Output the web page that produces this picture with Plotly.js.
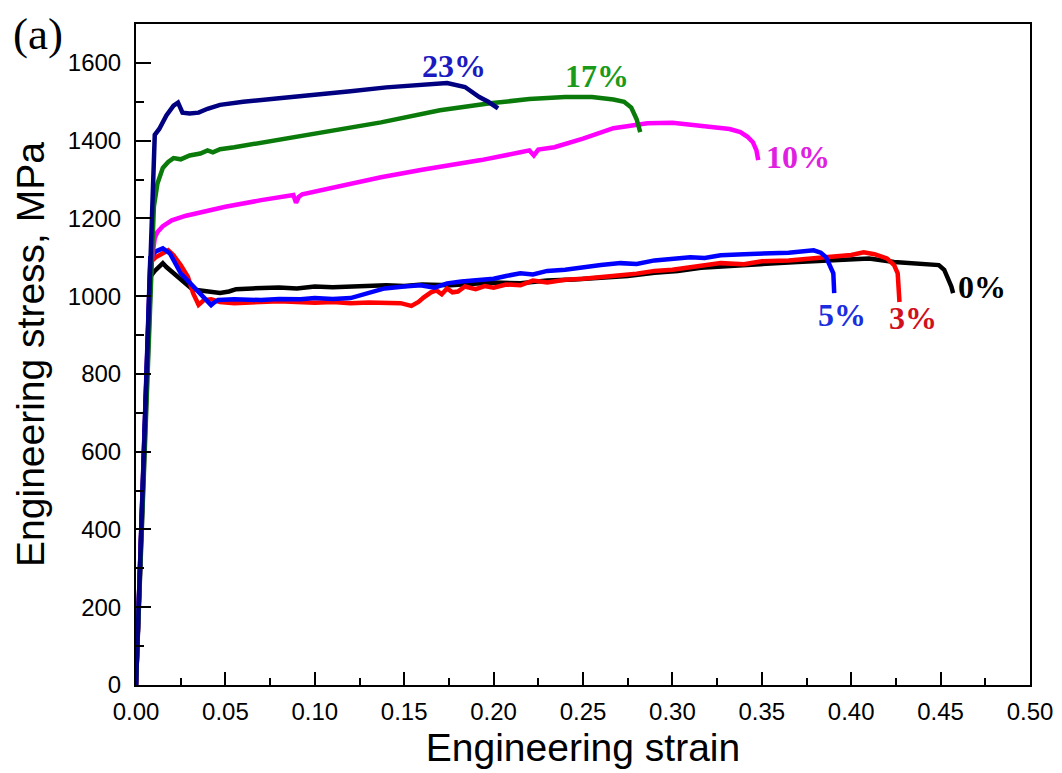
<!DOCTYPE html>
<html>
<head>
<meta charset="utf-8">
<script src="https://cdn.plot.ly/plotly-3.0.1.min.js"></script>
<style>html,body{margin:0;padding:0;background:#fff;}#chart{width:1062px;height:773px;}</style>
</head>
<body>
<div id="chart"></div>
<script>
// ---- Data ----
const strain0 = [0, 0.004, 0.008, 0.0105, 0.013, 0.015, 0.017, 0.022, 0.027, 0.031, 0.035, 0.040, 0.047, 0.052, 0.056, 0.065, 0.08, 0.09, 0.10, 0.11, 0.12, 0.13, 0.14, 0.15, 0.16, 0.176, 0.19, 0.20, 0.215, 0.23, 0.245, 0.26, 0.275, 0.29, 0.303, 0.316, 0.33, 0.34, 0.355, 0.37, 0.385, 0.40, 0.41, 0.424, 0.437, 0.449, 0.452, 0.454, 0.456, 0.457];
const stress0 = [0, 530, 1050, 1065, 1078, 1085, 1075, 1055, 1035, 1020, 1015, 1013, 1008, 1012, 1018, 1020, 1022, 1020, 1025, 1023, 1024, 1027, 1028, 1026, 1030, 1028, 1032, 1035, 1033, 1040, 1043, 1048, 1052, 1060, 1065, 1073, 1076, 1080, 1084, 1088, 1092, 1095, 1097, 1088, 1084, 1080, 1068, 1049, 1025, 1008];

const strain3 = [0, 0.004, 0.008, 0.011, 0.014, 0.016, 0.018, 0.021, 0.025, 0.029, 0.032, 0.035, 0.038, 0.042, 0.047, 0.055, 0.07, 0.08, 0.09, 0.10, 0.11, 0.12, 0.13, 0.14, 0.148, 0.154, 0.158, 0.161, 0.165, 0.168, 0.171, 0.174, 0.177, 0.18, 0.184, 0.19, 0.195, 0.20, 0.207, 0.215, 0.222, 0.23, 0.24, 0.25, 0.26, 0.271, 0.28, 0.29, 0.30, 0.31, 0.32, 0.327, 0.34, 0.35, 0.365, 0.377, 0.39, 0.40, 0.407, 0.413, 0.42, 0.424, 0.426, 0.427];
const stress3 = [0, 540, 1087, 1100, 1108, 1112, 1118, 1105, 1080, 1050, 1007, 978, 990, 992, 985, 982, 984, 987, 985, 983, 985, 982, 984, 982, 982, 975, 985, 997, 1010, 1015, 1005, 1020, 1010, 1012, 1025, 1018, 1026, 1022, 1030, 1028, 1040, 1035, 1042, 1045, 1048, 1054, 1058, 1065, 1068, 1075, 1080, 1085, 1082, 1090, 1092, 1097, 1100, 1106, 1113, 1108, 1097, 1080, 1059, 985];

const strain5 = [0, 0.004, 0.008, 0.011, 0.015, 0.019, 0.025, 0.030, 0.036, 0.040, 0.042, 0.044, 0.046, 0.055, 0.07, 0.08, 0.092, 0.10, 0.11, 0.12, 0.13, 0.139, 0.15, 0.159, 0.167, 0.174, 0.182, 0.19, 0.2, 0.207, 0.215, 0.222, 0.23, 0.24, 0.25, 0.26, 0.271, 0.28, 0.29, 0.30, 0.31, 0.318, 0.327, 0.34, 0.35, 0.365, 0.379, 0.383, 0.386, 0.388, 0.390, 0.3905];
const stress5 = [0, 545, 1100, 1115, 1123, 1110, 1059, 1035, 1008, 990, 977, 985, 990, 992, 990, 993, 992, 995, 993, 995, 1008, 1020, 1025, 1028, 1022, 1033, 1038, 1040, 1045, 1052, 1059, 1056, 1065, 1068, 1075, 1080, 1085, 1083, 1092, 1095, 1100, 1098, 1105, 1108, 1110, 1112, 1118, 1112, 1100, 1080, 1059, 1008];

const strain10 = [0, 0.0085, 0.0105, 0.012, 0.015, 0.020, 0.028, 0.036, 0.05, 0.07, 0.088, 0.0895, 0.091, 0.093, 0.11, 0.137, 0.16, 0.193, 0.215, 0.220, 0.2225, 0.225, 0.234, 0.25, 0.267, 0.286, 0.300, 0.320, 0.332, 0.338, 0.342, 0.345, 0.347, 0.348];
const stress10 = [0, 1080, 1150, 1165, 1180, 1195, 1207, 1216, 1230, 1247, 1260, 1240, 1255, 1262, 1280, 1306, 1325, 1350, 1370, 1375, 1362, 1377, 1383, 1405, 1432, 1445, 1446, 1437, 1430, 1422, 1410, 1396, 1375, 1350];

const strain17 = [0, 0.0085, 0.010, 0.012, 0.015, 0.018, 0.021, 0.025, 0.030, 0.036, 0.040, 0.043, 0.047, 0.055, 0.07, 0.09, 0.11, 0.137, 0.17, 0.198, 0.22, 0.24, 0.255, 0.267, 0.273, 0.277, 0.280, 0.282];
const stress17 = [0, 1080, 1230, 1290, 1330, 1345, 1355, 1352, 1362, 1367, 1375, 1370, 1378, 1383, 1395, 1412, 1428, 1447, 1478, 1496, 1507, 1512, 1512, 1506, 1500, 1485, 1455, 1422];

const strain23 = [0, 0.004, 0.008, 0.0105, 0.013, 0.017, 0.021, 0.0235, 0.026, 0.030, 0.035, 0.040, 0.047, 0.06, 0.08, 0.10, 0.12, 0.14, 0.16, 0.174, 0.184, 0.192, 0.197, 0.201, 0.2025];
const stress23 = [0, 540, 1080, 1415, 1430, 1465, 1490, 1498, 1472, 1470, 1472, 1482, 1492, 1500, 1509, 1517, 1527, 1537, 1545, 1548, 1538, 1512, 1500, 1490, 1483];

const labels = ["0%", "3%", "5%", "10%", "17%", "23%"];
const labelX = [0.473, 0.4346, 0.395, 0.370, 0.258, 0.178];
const labelY = [1023, 943, 951, 1357, 1566, 1591];

const xTickVals = [0, 0.05, 0.10, 0.15, 0.20, 0.25, 0.30, 0.35, 0.40, 0.45, 0.50];
const xTickText = ["0.00", "0.05", "0.10", "0.15", "0.20", "0.25", "0.30", "0.35", "0.40", "0.45", "0.50"];
const yTickVals = [0, 200, 400, 600, 800, 1000, 1200, 1400, 1600];

// ---- Styles ----
const lineColors = ["#000000", "#ff0000", "#0000ff", "#ff00ff", "#0a7a0a", "#000080"];
const labelColors = ["#000000", "#d0101c", "#1a2ee0", "#e020e0", "#1a9a1a", "#1a1ac0"];
const series = [[strain0, stress0], [strain3, stress3], [strain5, stress5], [strain10, stress10], [strain17, stress17], [strain23, stress23]];

const traces = series.map((s, i) => ({
  x: s[0], y: s[1], type: "scatter", mode: "lines", name: labels[i],
  line: {color: lineColors[i], width: 4.5}, hoverinfo: "skip"
}));

const annotations = labels.map((t, i) => ({
  x: labelX[i], y: labelY[i], xref: "x", yref: "y", text: "<b>" + t + "</b>",
  showarrow: false, xanchor: "center", yanchor: "middle",
  font: {family: "Liberation Serif, Times New Roman, serif", size: 32, color: labelColors[i]}
}));
annotations.push({
  x: -0.110, y: 0.985, xref: "paper", yref: "paper", text: "(a)", showarrow: false,
  xanchor: "center", yanchor: "middle",
  font: {family: "Liberation Serif, Times New Roman, serif", size: 45, color: "#000"}
});

const axisFont = {family: "Liberation Sans, Arial, sans-serif", size: 24, color: "#000"};
const layout = {
  width: 1062, height: 773,
  margin: {l: 136, r: 32, t: 24, b: 88},
  paper_bgcolor: "#fff", plot_bgcolor: "#fff",
  showlegend: false,
  xaxis: {
    range: [0, 0.5], showgrid: false, zeroline: false,
    showline: true, linecolor: "#000", linewidth: 2, mirror: true,
    ticks: "inside", ticklen: 13, tickwidth: 2, tickcolor: "#000",
    tickvals: xTickVals, ticktext: xTickText, tickfont: axisFont, ticklabelstandoff: 4,
    minor: {ticks: "inside", ticklen: 7, tickwidth: 2, tickcolor: "#000", dtick: 0.025},
    title: {text: "Engineering strain", font: {family: "Liberation Sans, Arial, sans-serif", size: 39, color: "#000"}, standoff: 10}
  },
  yaxis: {
    range: [0, 1700], showgrid: false, zeroline: false,
    showline: true, linecolor: "#000", linewidth: 2, mirror: true,
    ticks: "inside", ticklen: 15, tickwidth: 2, tickcolor: "#000",
    tickvals: yTickVals, tickfont: axisFont, ticklabelstandoff: 8,
    minor: {ticks: "inside", ticklen: 8, tickwidth: 2, tickcolor: "#000", dtick: 100},
    title: {text: "Engineering stress, MPa", font: {family: "Liberation Sans, Arial, sans-serif", size: 39, color: "#000"}, standoff: 11}
  },
  annotations: annotations
};

Plotly.newPlot("chart", traces, layout, {staticPlot: true, displayModeBar: false});
</script>
</body>
</html>
